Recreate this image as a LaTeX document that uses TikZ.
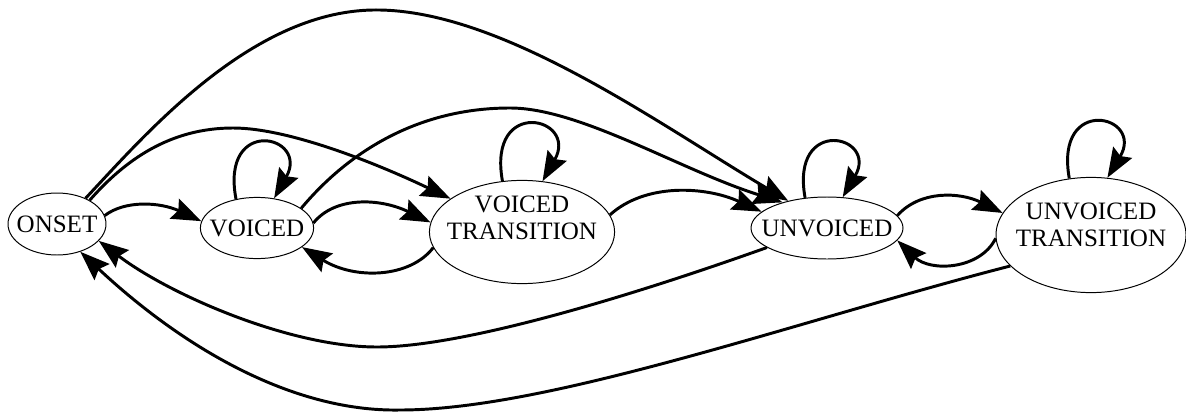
\documentclass[tikz,border=0pt]{standalone}
\usepackage{fontspec}
\setmainfont{Liberation Serif}
\usetikzlibrary{arrows.meta,shapes.geometric}
\newcommand{\twolines}[3][0pt]{\makebox[0pt]{\raisebox{#1}[0pt][0pt]{\begin{tabular}{@{}c@{}}#2\\#3\end{tabular}}}}

\begin{document}
\begin{tikzpicture}[scale=0.25]
\tikzstyle{every node}+=[inner sep=0pt]
\tikzstyle{state}=[draw, ellipse, line width=0.7pt, font=\fontsize{17.8}{19.2}\selectfont]
\tikzstyle{edge}=[black, line width=2.1pt, -{Stealth[length=21pt,width=15.5pt,inset=3pt]}]
\useasboundingbox (0,0) rectangle (118.6,-41.1);
\draw (5.7,-22.4) node [state, minimum width=2.45cm, minimum height=1.55cm] (onset) {\makebox[0pt]{ONSET}};
\draw (25.7,-22.8) node [state, minimum width=2.83cm, minimum height=1.53cm] (voiced) {\makebox[0pt]{VOICED}};
\draw (52.2,-23.2) node [state, minimum width=4.63cm, minimum height=2.58cm] (vtrans) {\twolines[3.7pt]{VOICED}{TRANSITION}};
\draw (82.7,-22.8) node [state, minimum width=3.8cm, minimum height=1.55cm] (unvoiced) {\makebox[0pt]{UNVOICED}};
\draw (109.1,-23.5) node [state, minimum width=4.75cm, minimum height=2.88cm] (utrans) {\twolines[1.2pt]{UNVOICED}{TRANSITION}};
% forward edges
\draw [edge] (onset.10) .. controls (12.5,-20.0) and (16,-20.2) .. (voiced.173);
\draw [edge] (voiced.5) .. controls (33.5,-19.6) and (38,-19.8) .. (vtrans.174);
\draw [edge] (vtrans.11) .. controls (64.5,-18.3) and (70.5,-18.6) .. (unvoiced.166);
\draw [edge] (unvoiced.10) .. controls (92,-19.0) and (96,-19.2) .. (utrans.166);
% back edges
\draw [edge] (vtrans.190) .. controls (41,-27.8) and (35.5,-28) .. (voiced.-23);
\draw [edge] (utrans.182) .. controls (98,-27) and (93,-27.2) .. (unvoiced.-10);
% self loops
\draw [edge] (voiced.126) .. controls (22,-11.5) and (31,-13.5) .. (voiced.60);
\draw [edge] (vtrans.111) .. controls (48.7,-9.6) and (57.9,-11.7) .. (vtrans.68);
\draw [edge] (unvoiced.126) .. controls (79.0,-11.5) and (87.9,-13.5) .. (unvoiced.63);
\draw [edge] (utrans.111) .. controls (105.4,-9.4) and (114.5,-11.5) .. (utrans.74);
% long edges over the top
\draw [edge] (onset.36) .. controls (12.5,-16) and (17,-12.8) .. (23.3,-12.8)
  .. controls (29,-12.8) and (38,-16.5) .. (vtrans.155);
\draw [edge] (onset.42) .. controls (14.5,-13.5) and (25,-1.2) .. (37.3,-1.0)
  .. controls (50,-0.8) and (66,-12.5) .. (unvoiced.145);
\draw [edge] (voiced.24) .. controls (35,-15) and (42,-10.8) .. (51,-10.8)
  .. controls (58,-10.8) and (68,-17) .. (unvoiced.150);
% long edges underneath
\draw [edge] (unvoiced.198) .. controls (62,-30) and (46,-34.7) .. (37.7,-34.7)
  .. controls (29,-34.7) and (17,-29.5) .. (onset.-22);
\draw [edge] (utrans.201) .. controls (80,-32) and (55,-41) .. (40,-41)
  .. controls (29,-41.2) and (18,-34.5) .. (onset.-50);
\end{tikzpicture}
\end{document}
